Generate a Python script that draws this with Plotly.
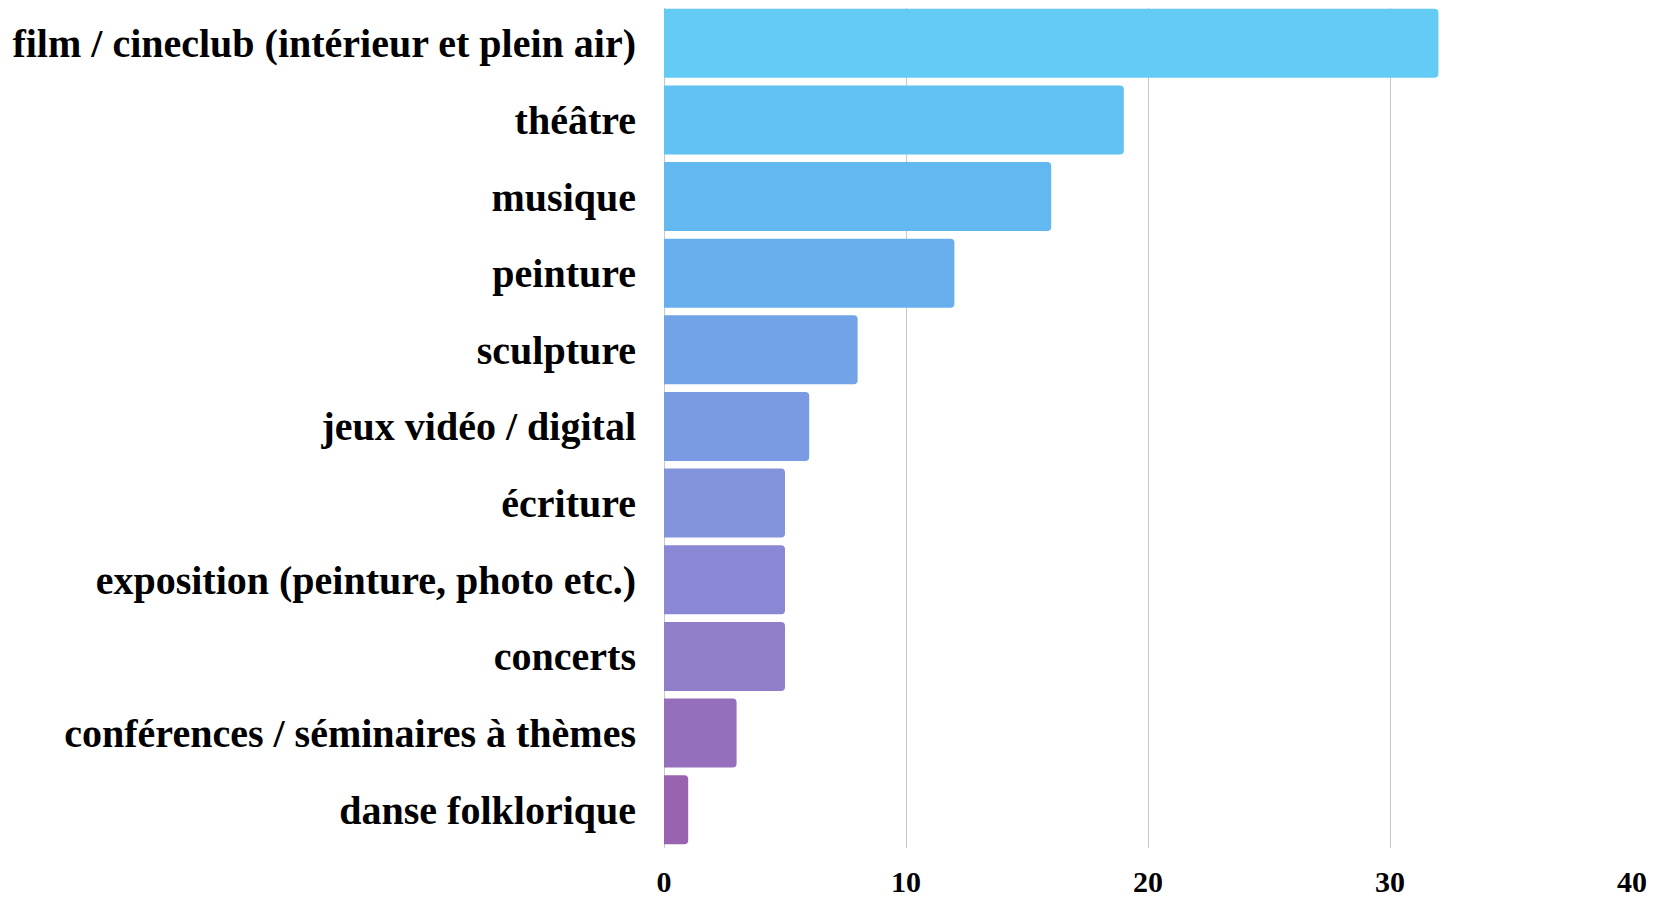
import plotly.graph_objects as go

categories = [
    "film / cineclub (intérieur et plein air)",
    "théâtre",
    "musique",
    "peinture",
    "sculpture",
    "jeux vidéo / digital",
    "écriture",
    "exposition (peinture, photo etc.)",
    "concerts",
    "conférences / séminaires à thèmes",
    "danse folklorique",
]
values = [32, 19, 16, 12, 8, 6, 5, 5, 5, 3, 1]
colors = [
    "#63CBF4", "#62C2F3", "#63B8F0", "#69AEED", "#72A3E7", "#7A9AE2",
    "#8292DB", "#8A88D4", "#907ECB", "#966FBC", "#9A63AF",
]
tick_vals = [0, 10, 20, 30, 40]

fig = go.Figure(
    go.Bar(
        x=values,
        y=categories,
        orientation="h",
        marker=dict(color=colors, line=dict(width=0), cornerradius=4),
        hoverinfo="x+y",
    )
)

# page body has an 8px margin, so the figure is sized to fit inside it
fig.update_layout(
    width=1653,
    height=894,
    margin=dict(l=656, r=29, t=0, b=54),
    plot_bgcolor="white",
    paper_bgcolor="white",
    bargap=0.1,
    showlegend=False,
    font=dict(family="Liberation Serif", color="black", size=40),
)
fig.update_xaxes(
    range=[0, 40],
    tickvals=tick_vals,
    automargin=False,
    showgrid=True,
    gridcolor="#C8C8C8",
    gridwidth=1,
    zeroline=True,
    zerolinecolor="#C8C8C8",
    zerolinewidth=1,
    showline=False,
    tickfont=dict(family="Liberation Serif", size=30, color="black", weight="bold"),
    ticklabelstandoff=13,
)
fig.update_yaxes(
    range=[10.5, -0.46],
    automargin=False,
    showgrid=False,
    showline=False,
    tickfont=dict(family="Liberation Serif", size=40, color="black", weight="bold"),
    ticklabelstandoff=27,
)

fig.write_html("out.html")
